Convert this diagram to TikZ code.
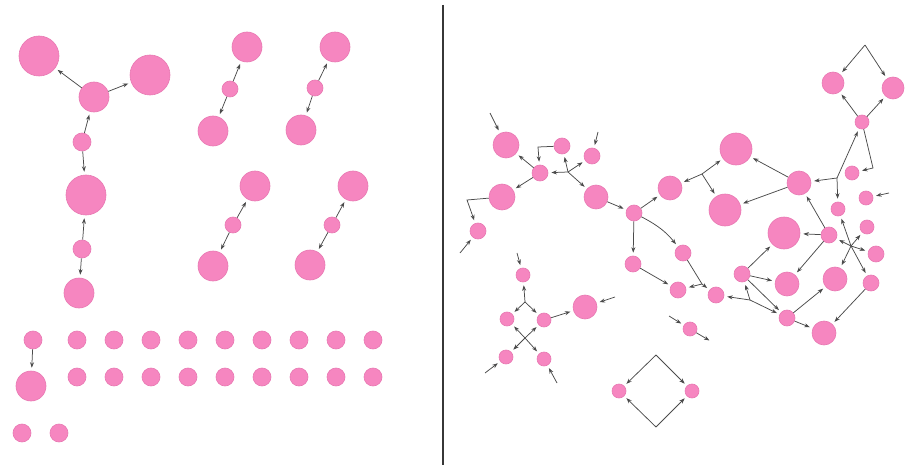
\documentclass[tikz,border=0pt]{standalone}
\usetikzlibrary{arrows.meta}
\definecolor{pk}{RGB}{246,134,192}
\definecolor{pkd}{RGB}{232,120,178}
\definecolor{eg}{RGB}{75,75,75}
\definecolor{ah}{RGB}{40,40,40}
\tikzset{
  nd/.style={circle, fill=pk, draw=pkd, line width=0.6pt, inner sep=0pt},
  rA/.style={nd, minimum size=40pt},
  rB/.style={nd, minimum size=32pt},
  rC/.style={nd, minimum size=30pt},
  rD/.style={nd, minimum size=26pt},
  rE/.style={nd, minimum size=24pt},
  rF/.style={nd, minimum size=22pt},
  rG/.style={nd, minimum size=18pt},
  rH/.style={nd, minimum size=16pt},
  rI/.style={nd, minimum size=14pt},
  ed/.style={draw=eg, line width=0.75pt, -{Stealth[length=5.5pt,width=4pt,fill=ah]}, shorten >=3pt},
  divider/.style={line width=2.6pt, draw={rgb,255:red,55;green,55;blue,55}}
}
\begin{document}
\begin{tikzpicture}[x=1pt,y=-1pt]
\useasboundingbox (0,0) rectangle (905,468);
\fill[white] (0,0) rectangle (905,468);

% ---------------- left panel ----------------
\node[rA] (A) at (39,56) {};
\node[rA] (B) at (150,75) {};
\node[rC] (C) at (94,97) {};
\node[rG] (D) at (82,142) {};
\node[rA] (E) at (86,195) {};
\node[rG] (F) at (82,249) {};
\node[rC] (G) at (79,293) {};
\draw[ed] (C) -- (A);
\draw[ed] (C) -- (B);
\draw[ed] (D) -- (C);
\draw[ed] (D) -- (E);
\draw[ed] (F) -- (E);
\draw[ed] (F) -- (G);

\node[rC] (a1) at (247,47) {};
\node[rH] (a2) at (230,89) {};
\node[rC] (a3) at (213,131) {};
\draw[ed] (a2) -- (a1);
\draw[ed] (a2) -- (a3);

\node[rC] (b1) at (335,47) {};
\node[rH] (b2) at (315,88) {};
\node[rC] (b3) at (301,130) {};
\draw[ed] (b2) -- (b1);
\draw[ed] (b2) -- (b3);

\node[rC] (c1) at (255,186) {};
\node[rH] (c2) at (233,225) {};
\node[rC] (c3) at (213,266) {};
\draw[ed] (c2) -- (c1);
\draw[ed] (c2) -- (c3);

\node[rC] (d1) at (353,186) {};
\node[rH] (d2) at (332,225) {};
\node[rC] (d3) at (310,265) {};
\draw[ed] (d2) -- (d1);
\draw[ed] (d2) -- (d3);

\node[rG] (g0) at (33,340) {};
\node[rC] (g00) at (31,386) {};
\draw[ed] (g0) -- (g00);
\foreach \i/\x in {1/77,2/114,3/151,4/188,5/225,6/262,7/299,8/336,9/373} {
  \node[rG] (u\i) at (\x,340) {};
  \node[rG] (v\i) at (\x,377) {};
}
\node[rG] (w1) at (22,433) {};
\node[rG] (w2) at (59,433) {};

% ---------------- divider ----------------
\draw[divider] (443,5) -- (443,465);

% ---------------- right panel ----------------
\node[rD] (N1) at (506,145) {};
\node[rH] (N2) at (540,173) {};
\node[rD] (N3) at (502,197) {};
\node[rH] (N4) at (562,146) {};
\node[rH] (N5) at (592,156) {};
\node[rE] (N6) at (596,197) {};
\node[rH] (N7) at (634,213) {};
\node[rH] (N8) at (633,264) {};
\node[rH] (N9) at (478,231) {};
\node[rH] (N10) at (683,253) {};
\node[rH] (N11) at (678,290) {};
\node[rH] (N12) at (716,295) {};
\node[rI] (N13) at (690,329) {};
\node[rB] (Q1) at (736,149) {};
\node[rE] (Q2) at (799,183) {};
\node[rE] (Q3) at (670,188) {};
\node[rB] (Q4) at (725,210) {};
\node[rF] (P1) at (833,83) {};
\node[rF] (P2) at (893,88) {};
\node[rI] (P3) at (862,122) {};
\node[rI] (P4) at (852,173) {};
\node[rI] (P5) at (866,198) {};
\node[rI] (P6) at (838,209) {};
\node[rH] (R1) at (829,235) {};
\node[rI] (R2) at (867,227) {};
\node[rH] (R3) at (876,254) {};
\node[rH] (R4) at (871,283) {};
\node[rH] (R5) at (742,274) {};
\node[rH] (R6) at (787,318) {};
\node[rB] (S1) at (784,233) {};
\node[rE] (S2) at (835,279) {};
\node[rE] (S3) at (787,284) {};
\node[rE] (S4) at (824,333) {};
\node[rE] (S5) at (585,307) {};
\node[rI] (M1) at (523,275) {};
\node[rI] (M2) at (507,319) {};
\node[rI] (M3) at (544,320) {};
\node[rI] (M4) at (506,357) {};
\node[rI] (M5) at (544,359) {};
\node[rI] (D1) at (619,391) {};
\node[rI] (D2) at (692,391) {};

\coordinate (fN1) at (490,113);
\coordinate (fN5) at (598,132);
\coordinate (J1) at (568,172);
\coordinate (c24) at (538,147);
\coordinate (c39) at (467,200);
\coordinate (fN9) at (460,253);
\coordinate (fM1) at (517,253);
\coordinate (K1) at (525,302);
\coordinate (K2) at (525,338);
\coordinate (fM4) at (485,373);
\coordinate (fM5) at (557,383);
\coordinate (fS5) at (615,297);
\coordinate (fN13a) at (669,316);
\coordinate (fN13b) at (712,342);
\coordinate (T1) at (656,355);
\coordinate (T2) at (656,427);
\coordinate (T) at (865,45);
\coordinate (c34) at (873,168);
\coordinate (J2) at (837,178);
\coordinate (fP5) at (889,193);
\coordinate (J3) at (702,174);
\coordinate (J4) at (851,246);
\coordinate (J5) at (750,300);
\coordinate (J6) at (702,284);

\draw[ed] (fN1) -- (N1);
\draw[ed] (N2) -- (N1);
\draw[ed] (N2) -- (N3);
\draw[ed] (N4) -- (c24) -- (N2);
\draw[ed] (J1) -- (N4);
\draw[ed] (J1) -- (N5);
\draw[ed] (J1) -- (N2);
\draw[ed] (J1) -- (N6);
\draw[ed] (fN5) -- (N5);
\draw[ed] (N6) -- (N7);
\draw[ed] (N7) -- (N8);
\draw[ed] (N7) -- (Q3);
\draw[ed] (N7) to[bend left=12] (N10);
\draw[ed] (N3) -- (c39) -- (N9);
\draw[ed] (fN9) -- (N9);
\draw[ed] (N8) -- (N11);
\draw[ed] (N10) -- (J6) -- (N12);
\draw[ed] (J6) -- (N11);
\draw[ed] (J3) -- (Q3);
\draw[ed] (J3) -- (Q1);
\draw[ed] (J3) -- (Q4);
\draw[ed] (Q2) -- (Q1);
\draw[ed] (Q2) -- (Q4);
\draw[ed] (J2) -- (Q2);
\draw[ed] (J2) -- (P6);
\draw[ed] (J2) -- (P3);
\draw[ed] (P3) -- (c34) -- (P4);
\draw[ed] (fP5) -- (P5);
\draw[ed] (T) -- (P1);
\draw[ed] (T) -- (P2);
\draw[ed] (P3) -- (P1);
\draw[ed] (P3) -- (P2);
\draw[ed] (R1) -- (Q2);
\draw[ed] (R1) -- (S1);
\draw[ed] (R1) -- (S3);
\draw[ed] (J4) -- (P6);
\draw[ed] (J4) -- (R1);
\draw[ed] (J4) -- (R2);
\draw[ed] (J4) -- (R3);
\draw[ed] (J4) -- (R4);
\draw[ed] (J4) -- (S2);
\draw[ed] (R5) -- (S1);
\draw[ed] (R5) -- (S3);
\draw[ed] (R5) -- (R6);
\draw[ed] (J5) -- (N12);
\draw[ed] (J5) -- (R5);
\draw[ed] (J5) -- (R6);
\draw[ed] (R6) -- (S2);
\draw[ed] (R6) -- (S4);
\draw[ed] (R4) -- (S4);
\draw[ed] (M3) -- (S5);
\draw[ed] (fS5) -- (S5);
\draw[ed] (fM1) -- (M1);
\draw[ed] (K1) -- (M1);
\draw[ed] (K1) -- (M2);
\draw[ed] (K1) -- (M3);
\draw[ed] (K2) -- (M2);
\draw[ed] (K2) -- (M3);
\draw[ed] (K2) -- (M4);
\draw[ed] (K2) -- (M5);
\draw[ed] (fM4) -- (M4);
\draw[ed] (fM5) -- (M5);
\draw[ed] (fN13a) -- (N13);
\draw[ed] (N13) -- (fN13b);
\draw[ed] (T1) -- (D1);
\draw[ed] (T1) -- (D2);
\draw[ed] (T2) -- (D1);
\draw[ed] (T2) -- (D2);
\end{tikzpicture}
\end{document}
